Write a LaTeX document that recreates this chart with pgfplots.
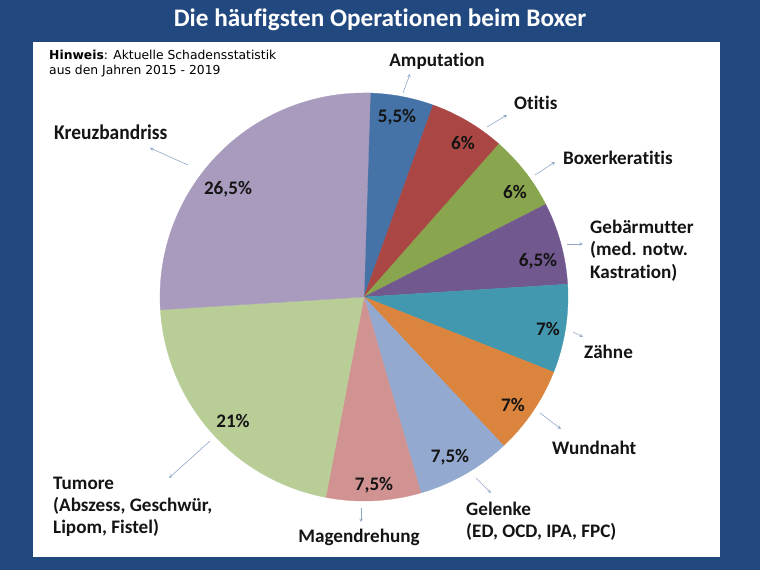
\documentclass[border=0pt]{standalone}
\usepackage{pgfplots}
\pgfplotsset{compat=1.18}
\usepackage{fontspec}
\setmainfont{Carlito}[Ligatures={NoCommon,NoContextual}]
\newfontfamily\kbfont{Carlito Bold}[Ligatures={NoCommon,NoContextual}, FakeStretch=0.93]
\newfontfamily\dejavu{DejaVu Sans}
\definecolor{bgblue}{HTML}{22497F}
\definecolor{arr}{HTML}{8FA8C8}
\definecolor{txt}{HTML}{141414}
\definecolor{c1}{HTML}{4572A7}
\definecolor{c2}{HTML}{AA4643}
\definecolor{c3}{HTML}{89A54E}
\definecolor{c4}{HTML}{71588F}
\definecolor{c5}{HTML}{4198AF}
\definecolor{c6}{HTML}{DB843D}
\definecolor{c7}{HTML}{93A9CF}
\definecolor{c8}{HTML}{D19392}
\definecolor{c9}{HTML}{B9CD96}
\definecolor{c10}{HTML}{A99BBD}
% pie centre (364,273), radius 204; slices clockwise from 12 o'clock
% #1 cumulative share before slice, #2 share, #3 colour
\newcommand{\slice}[3]{%
  \addplot[fill=#3, draw=#3, line width=0.3bp, domain={90-3.6*(#1+#2)}:{90-3.6*(#1)}, samples=80, variable=\t]
    ({364+204*cos(\t)},{273+204*sin(\t)}) -- (axis cs:364,273) -- cycle;}
\begin{document}
\begin{tikzpicture}
\begin{axis}[anchor=origin, at={(0,0)}, x=1bp, y=1bp,
  xmin=0, xmax=760, ymin=0, ymax=570, hide axis, clip=false]
  \fill[bgblue] (axis cs:0,0) rectangle (axis cs:760,570);
  \fill[white] (axis cs:33,13) rectangle (axis cs:720,528);
  % shares in percent
  \slice{0}{5.5}{c1}
  \slice{5.5}{6}{c2}
  \slice{11.5}{6}{c3}
  \slice{17.5}{6.5}{c4}
  \slice{24}{7}{c5}
  \slice{31}{7}{c6}
  \slice{38}{7.5}{c7}
  \slice{45.5}{7.5}{c8}
  \slice{53}{21}{c9}
  \slice{74}{26.5}{c10}
  % title and note
  \node[text=white, font=\fontsize{25.3}{28}\selectfont\bfseries] at (axis cs:380,550) {Die häufigsten Operationen beim Boxer};
  \node[anchor=west, inner sep=0pt, text=black, font=\dejavu\fontsize{12.4}{14}\selectfont] at (axis cs:49,515) {\textbf{Hinweis}: Aktuelle Schadensstatistik};
  \node[anchor=west, inner sep=0pt, text=black, font=\dejavu\fontsize{12.4}{14}\selectfont] at (axis cs:49,499) {aus den Jahren 2015 - 2019};
  % percentages
  \begin{scope}[every node/.style={text=txt, font=\fontsize{19.2}{21}\selectfont\bfseries}]
  \node at (axis cs:397,453) {5,5\%};
  \node at (axis cs:463,427) {6\%};
  \node at (axis cs:515,378) {6\%};
  \node at (axis cs:538,309) {6,5\%};
  \node at (axis cs:548,241) {7\%};
  \node at (axis cs:513,165) {7\%};
  \node at (axis cs:450,113) {7,5\%};
  \node at (axis cs:374,85) {7,5\%};
  \node at (axis cs:233,149) {21\%};
  \node at (axis cs:228,381) {26,5\%};
  \end{scope}
  % category labels
  \begin{scope}[every node/.style={text=txt, font=\fontsize{19.2}{21}\selectfont\bfseries, anchor=west, inner sep=0pt}]
  \node[anchor=center] at (axis cs:437,509) {Amputation};
  \node at (axis cs:514,467) {Otitis};
  \node at (axis cs:563,412) {Boxerkeratitis};
  \node at (axis cs:590,343) {Gebärmutter};
  \node at (axis cs:590,320) {(med. notw.};
  \node at (axis cs:590,297) {Kastration)};
  \node at (axis cs:584,218) {Zähne};
  \node at (axis cs:552,122) {Wundnaht};
  \node at (axis cs:466,61) {Gelenke};
  \node at (axis cs:466,38) {(ED, OCD, IPA, FPC)};
  \node[anchor=center] at (axis cs:359,33) {Magendrehung};
  \node at (axis cs:53,87) {Tumore};
  \node at (axis cs:53,64) {(Abszess, Geschwür,};
  \node at (axis cs:53,42) {Lipom, Fistel)};
  \node[font=\kbfont\fontsize{21}{23}\selectfont] at (axis cs:54,438) {Kreuzbandriss};
  \end{scope}
  % leader arrows
  \begin{scope}[arr, line width=0.6bp, ->, >=stealth]
  \draw (axis cs:403,477) -- (axis cs:410,496);
  \draw (axis cs:487,443) -- (axis cs:507,455);
  \draw (axis cs:535,395) -- (axis cs:555,408);
  \draw (axis cs:567,326) -- (axis cs:583,326);
  \draw (axis cs:573,238) -- (axis cs:583,233);
  \draw (axis cs:540,157) -- (axis cs:561,141);
  \draw (axis cs:476,92) -- (axis cs:491,77);
  \draw (axis cs:361,62) -- (axis cs:361,48);
  \draw (axis cs:210,129) -- (axis cs:169,92);
  \draw (axis cs:188,405) -- (axis cs:150,422);
  \end{scope}
\end{axis}
\end{tikzpicture}
\end{document}
